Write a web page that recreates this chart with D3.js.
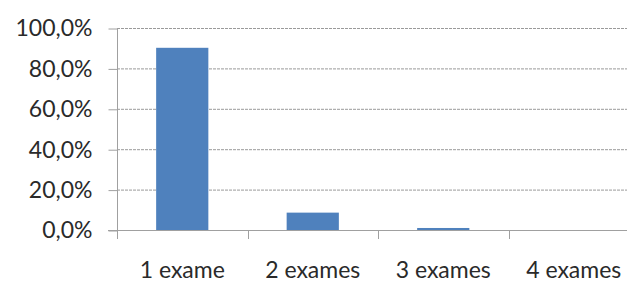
<!DOCTYPE html>
<meta charset="utf-8">
<style>
	body{margin:0;background:#fff;}
	text{font-family:Lato,"Open Sans",sans-serif;fill:#2a2a2a;}
</style>
<svg width="627" height="282"></svg>
<script src="https://d3js.org/d3.v7.min.js"></script>
<script>
	var categories = ["1 exame","2 exames","3 exames","4 exames"];
	var values = [90.2, 8.6, 1.0, 0];
	var yTicks = [0,20,40,60,80,100];

	var svg = d3.select("svg"),
		mLeft = 117, mRight = 639, mTop = 28, mBottom = 230;

	var x = d3.scaleBand().domain(categories).range([mLeft,mRight]).paddingInner(0.6).paddingOuter(0.3);
	var y = d3.scaleLinear().domain([0,100]).range([mBottom,mTop]);

	var fmt = function(d){ return d.toFixed(1).replace(".",",") + "%"; };

	// gridlines
	svg.append("g").selectAll("line").data(yTicks.filter(function(d){return d>0;})).enter().append("line")
		.attr("x1",mLeft).attr("x2",627).attr("y1",function(d){return y(d)+0.5}).attr("y2",function(d){return y(d)+0.5})
		.attr("stroke","#9a9a9a").attr("stroke-dasharray","3,1");

	// bars
	svg.append("g").selectAll("rect").data(values).enter().append("rect")
		.attr("x",function(d,i){return x(categories[i])})
		.attr("width",x.bandwidth())
		.attr("y",function(d){return y(d)})
		.attr("height",function(d){return mBottom-y(d)})
		.attr("fill","#4f81bd");

	// y axis
	var yAxis = svg.append("g").attr("transform","translate("+(mLeft+0.5)+",0.5)")
		.call(d3.axisLeft(y).tickValues(yTicks).tickFormat(fmt).tickSize(9).tickPadding(16));
	yAxis.select(".domain").remove();
	yAxis.selectAll("line").attr("stroke","#a0a0a0");
	yAxis.selectAll("text").style("font-size","23px").attr("fill","#2a2a2a").attr("font-family",null);

	svg.append("line").attr("x1",mLeft+0.5).attr("x2",mLeft+0.5).attr("y1",mTop).attr("y2",mBottom+9)
		.attr("stroke","#a0a0a0");
	svg.append("line").attr("x1",mLeft-9).attr("x2",627).attr("y1",mBottom+0.5).attr("y2",mBottom+0.5)
		.attr("stroke","#a0a0a0");

	// category boundary ticks
	var step = x.step();
	svg.append("g").selectAll("line").data(categories.slice(1)).enter().append("line")
		.attr("x1",function(d,i){return Math.round(mLeft+step*(i+1))+0.5})
		.attr("x2",function(d,i){return Math.round(mLeft+step*(i+1))+0.5})
		.attr("y1",mBottom).attr("y2",mBottom+9).attr("stroke","#a0a0a0");

	// x labels
	svg.append("g").selectAll("text").data(categories).enter().append("text")
		.attr("x",function(d){return x(d)+x.bandwidth()/2})
		.attr("y",278).attr("text-anchor","middle").style("font-size","23px")
		.text(function(d){return d});
</script>
